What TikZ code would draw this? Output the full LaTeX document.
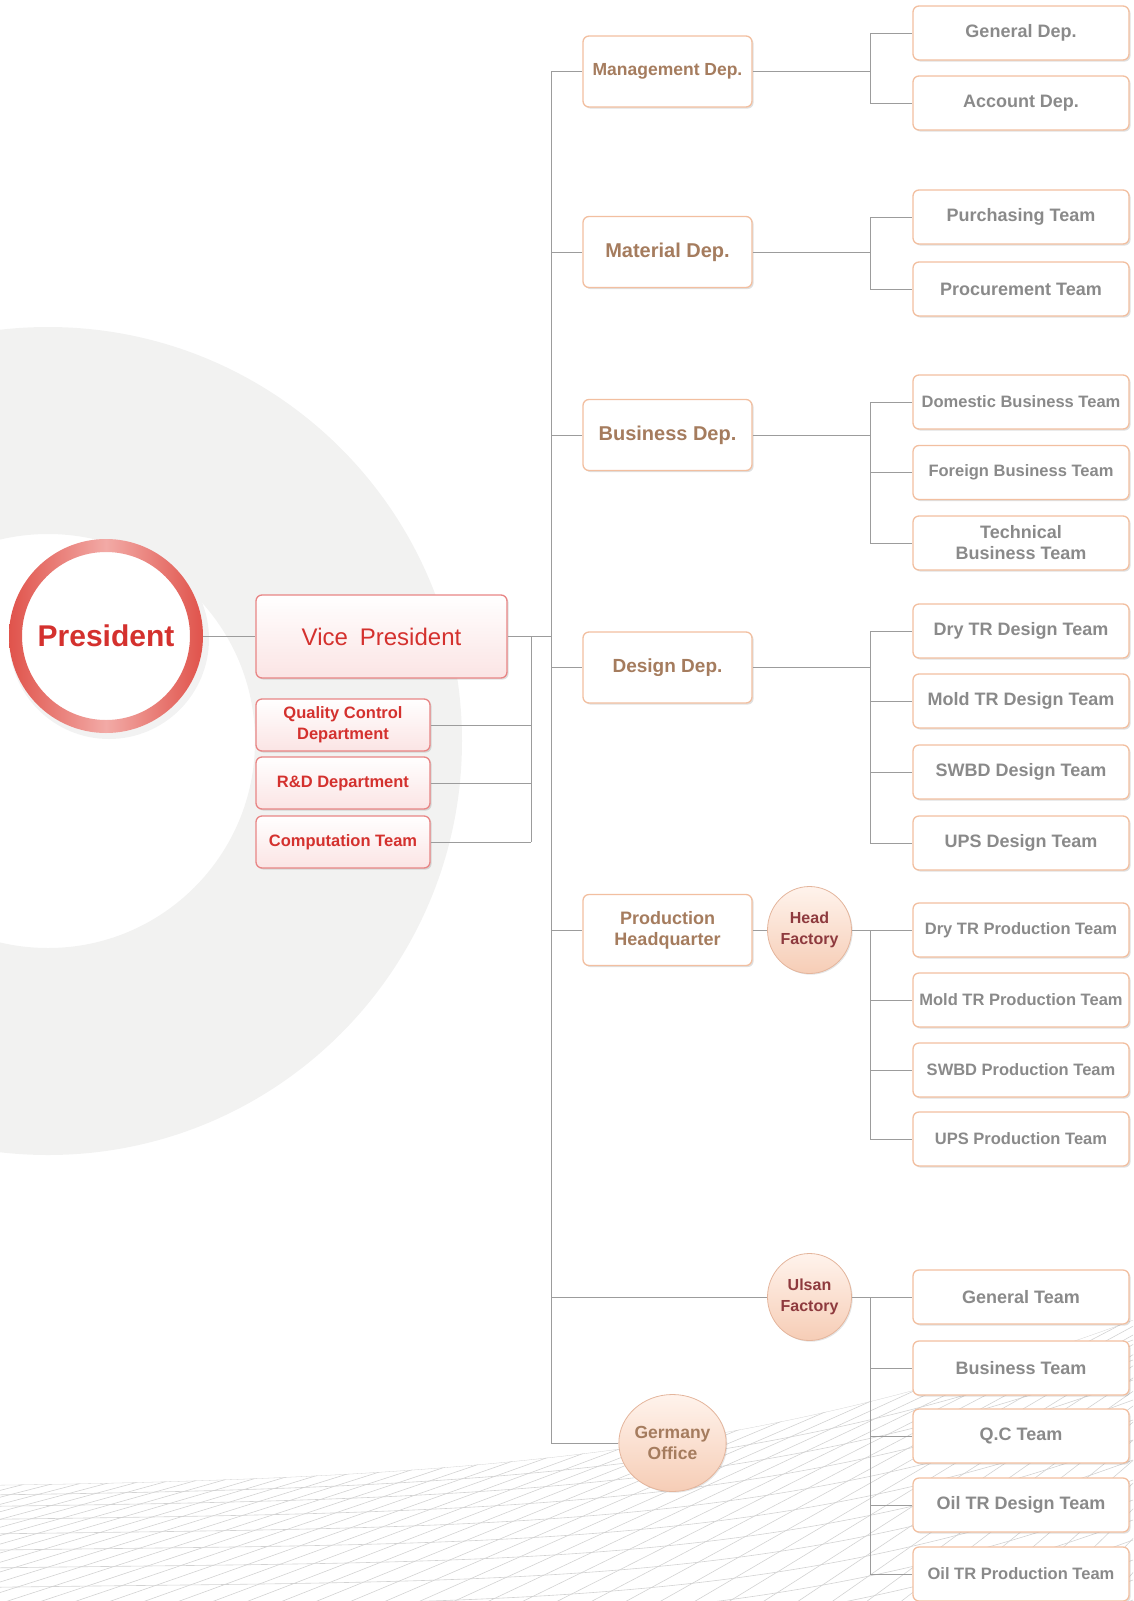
\documentclass[tikz,border=0pt]{standalone}
\usepackage{fontspec}
\setmainfont{Liberation Sans}
\usetikzlibrary{shapes.geometric,shadows}
\definecolor{peach}{HTML}{F2BFA0}
\definecolor{deptbrown}{HTML}{A57C5E}
\definecolor{teamgrey}{HTML}{8A8A8A}
\definecolor{redtxt}{HTML}{D4312E}
\definecolor{vpborder}{HTML}{E88585}
\definecolor{pinkfill}{HTML}{FBE4E4}
\definecolor{bggrey}{HTML}{F2F2F1}
\definecolor{linegrey}{HTML}{9C9C9C}
\definecolor{circborder}{HTML}{E4B59C}
\definecolor{sitetop}{HTML}{FFF3EC}
\definecolor{sitebot}{HTML}{F6CDB6}
\definecolor{factorytxt}{HTML}{8E3A3E}
\definecolor{ringred}{HTML}{E0534B}
\definecolor{ringpink}{HTML}{F2AAA6}
\definecolor{meshgrey}{HTML}{D2D2D2}
\newcommand{\myfs}[1]{\bfseries\fontsize{#1}{21}\selectfont}
\begin{document}
\begin{tikzpicture}[x=1pt,y=-1pt,
  conn/.style={draw=linegrey, line width=0.9pt},
  mesh/.style={draw=meshgrey, line width=0.6pt},
  box/.style={rectangle, rounded corners=6pt, line width=1.3pt, align=center, inner sep=2pt,
    drop shadow={shadow xshift=1.6pt, shadow yshift=-1.6pt, fill=black, opacity=0.12}},
  deptbox/.style={box, draw=peach, fill=white, minimum width=169pt, minimum height=71pt, text=deptbrown},
  teambox/.style={box, draw=peach, fill=white, minimum width=216pt, minimum height=54pt, text=teamgrey, font=\myfs{18}},
  smallteam/.style={teambox, font=\myfs{16.5}},
  redbox/.style={box, draw=vpborder, top color=white, bottom color=pinkfill, text=redtxt},
  site/.style={ellipse, draw=circborder, line width=0.8pt, top color=sitetop, bottom color=sitebot,
    minimum width=84pt, minimum height=87pt, inner sep=0pt, align=center,
    drop shadow={shadow xshift=1.2pt, shadow yshift=-1.2pt, fill=black, opacity=0.10}}
]
\useasboundingbox (0,0) rectangle (1133,1601);
\clip (0,0) rectangle (1133,1601);

% background annulus
\fill[bggrey, even odd rule] (48,741) circle (414pt) (48,741) circle (207pt);

% mesh
\begin{scope}
  \clip (0,1485) .. controls (500,1478) and (780,1450) .. (1133,1320) -- (1133,1601) -- (0,1601) -- cycle;
  \foreach \i in {0,...,22} {
    \pgfmathsetmacro\a{1485+9*\i+0.8*\i*\i}
    \pgfmathsetmacro\d{1478+9*\i+0.8*\i*\i}
    \pgfmathsetmacro\b{1320+20*\i}
    \pgfmathsetmacro\c{1450+20*\i}
    \draw[mesh] (0,\a) .. controls (500,\d) and (780,\c) .. (1133,\b);
  }
  \foreach \j in {0,...,72} {
    \pgfmathsetmacro\x{-1000+35*\j}
    \draw[mesh] (\x,1610) -- (1550,1100);
  }
\end{scope}

% President
\fill[black!5] (109,639) circle (100pt);
\fill[white] (106,636) circle (90pt);
\shade[left color=ringred, right color=ringred, middle color=ringpink, even odd rule]
  (106,636) circle (97pt) (106,636) circle (84pt);
\node[circle, minimum size=194pt, inner sep=0pt, text=redtxt, font=\bfseries\fontsize{30}{34}\selectfont] (pres) at (106,636) {President};

% VP and staff
\node[redbox, minimum width=251pt, minimum height=83pt, font=\fontsize{24}{28}\selectfont] (vp) at (381.5,636.5) {Vice\hspace{0.5em}President};
\node[redbox, minimum width=174pt, minimum height=52pt, font=\myfs{16.5}] (qc) at (343,725) {Quality Control\\Department};
\node[redbox, minimum width=174pt, minimum height=52pt, font=\myfs{16.5}] (rd) at (343,783) {R\&D Department};
\node[redbox, minimum width=174pt, minimum height=52pt, font=\myfs{16.5}] (comp) at (343,842) {Computation Team};

% departments
\node[deptbox, font=\myfs{17.5}] (mgmt) at (667.5,71.5) {Management Dep.};
\node[deptbox, font=\myfs{20}] (mat) at (667.5,252) {Material Dep.};
\node[deptbox, font=\myfs{20}] (bus) at (667.5,435) {Business Dep.};
\node[deptbox, font=\myfs{19}] (des) at (667.5,667.5) {Design Dep.};
\node[deptbox, font=\myfs{18}] (prod) at (667.5,930) {Production\\Headquarter};

% sites
\node[site, text=factorytxt, font=\myfs{16}] (head) at (809.5,930) {Head\\Factory};
\node[site, text=factorytxt, font=\myfs{16}] (ulsan) at (809.5,1297) {Ulsan\\Factory};
\node[site, text=deptbrown, font=\myfs{17.5}, minimum width=97pt, minimum height=97pt] (germ) at (672.5,1443) {Germany\\Office};

% teams
\node[teambox] (gen) at (1021,33) {General Dep.};
\node[teambox] (acc) at (1021,103) {Account Dep.};
\node[teambox] (pur) at (1021,217) {Purchasing Team};
\node[teambox] (proc) at (1021,289) {Procurement Team};
\node[smallteam] (dom) at (1021,402) {Domestic Business Team};
\node[smallteam] (forb) at (1021,472.5) {Foreign Business Team};
\node[teambox] (tech) at (1021,543) {Technical\\Business Team};
\node[teambox] (dtd) at (1021,631) {Dry TR Design Team};
\node[teambox] (mtd) at (1021,701) {Mold TR Design Team};
\node[teambox] (sd) at (1021,772) {SWBD Design Team};
\node[teambox] (ud) at (1021,843) {UPS Design Team};
\node[smallteam] (dtp) at (1021,930) {Dry TR Production Team};
\node[smallteam] (mtp) at (1021,1000) {Mold TR Production Team};
\node[smallteam] (spt) at (1021,1070) {SWBD Production Team};
\node[smallteam] (upt) at (1021,1139) {UPS Production Team};
\node[teambox] (gt) at (1021,1297) {General Team};
\node[teambox] (bt) at (1021,1368) {Business Team};
\node[teambox] (qct) at (1021,1436) {Q.C Team};
\node[teambox] (otd) at (1021,1505) {Oil TR Design Team};
\node[smallteam] (otp) at (1021,1574) {Oil TR Production Team};

% bus coordinates
\coordinate (mb) at (551,0);
\coordinate (vb) at (531,0);
\coordinate (bx) at (870,0);

% connectors
\draw[conn] (pres.east |- vp.west) -- (vp.west);
\draw[conn] (vp.east) -- (mb |- vp.east);
\draw[conn] (vb |- vp.east) -- (vb |- comp.east);
\foreach \n in {qc,rd,comp} \draw[conn] (\n.east) -- (vb |- \n.east);
\draw[conn] (mb |- mgmt.west) -- (mb |- germ.west);
\foreach \n in {mgmt,mat,bus,des,prod,ulsan,germ} \draw[conn] (mb |- \n.west) -- (\n.west);
\draw[conn] (prod.east) -- (head.west);

\draw[conn] (mgmt.east) -| (bx |- gen.west) -- (gen.west);
\draw[conn] (bx |- mgmt.east) |- (acc.west);
\draw[conn] (mat.east) -| (bx |- pur.west) -- (pur.west);
\draw[conn] (bx |- mat.east) |- (proc.west);
\draw[conn] (bus.east) -| (bx |- dom.west) -- (dom.west);
\foreach \n in {forb,tech} \draw[conn] (bx |- bus.east) |- (\n.west);
\draw[conn] (des.east) -| (bx |- dtd.west) -- (dtd.west);
\foreach \n in {mtd,sd,ud} \draw[conn] (bx |- des.east) |- (\n.west);
\draw[conn] (head.east) -- (dtp.west);
\foreach \n in {mtp,spt,upt} \draw[conn] (bx |- head.east) |- (\n.west);
\draw[conn] (ulsan.east) -- (gt.west);
\foreach \n in {bt,qct,otd,otp} \draw[conn] (bx |- ulsan.east) |- (\n.west);
\end{tikzpicture}
\end{document}
